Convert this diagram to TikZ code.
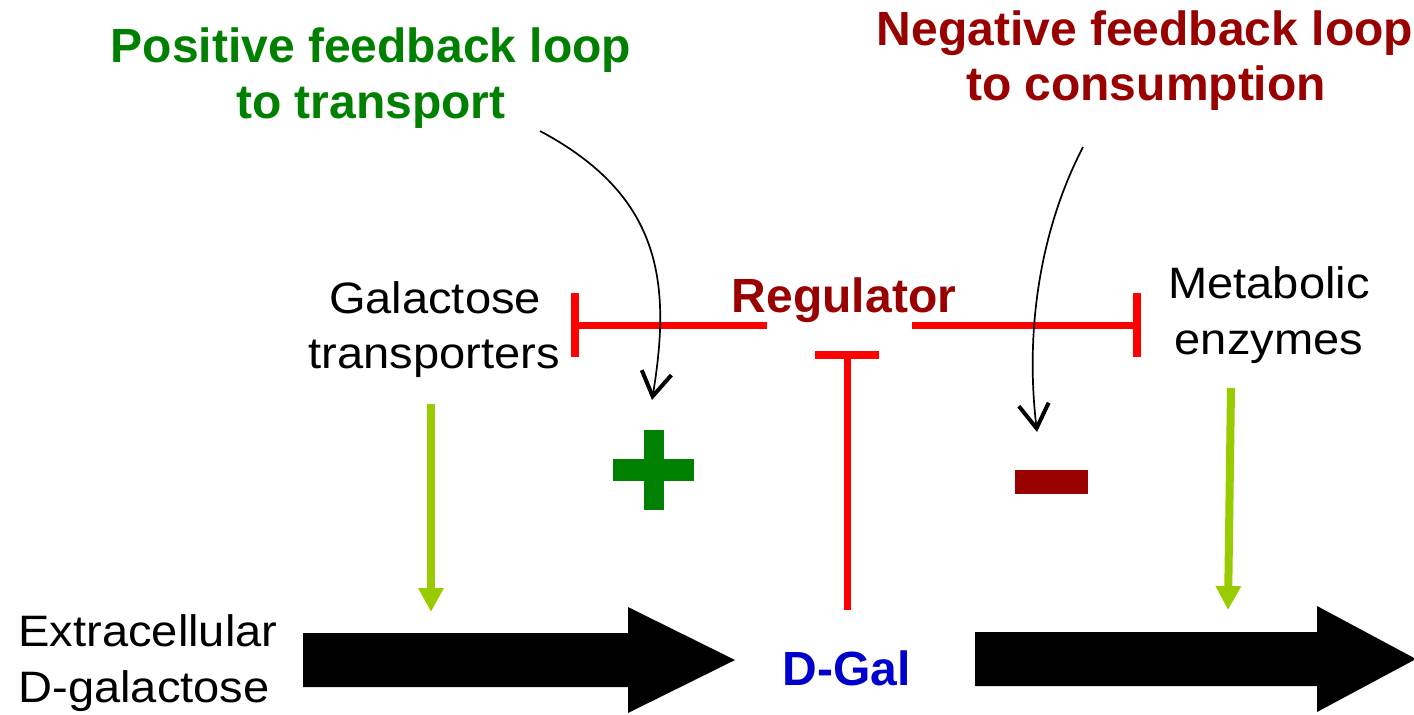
\documentclass[tikz,border=0pt]{standalone}
\usepackage{fontspec}
\setmainfont{Liberation Sans}
\newfontfamily\widesans[FakeStretch=1.07]{Liberation Sans}
\usetikzlibrary{arrows.meta}

\definecolor{posgreen}{RGB}{0,128,0}
\definecolor{negred}{RGB}{153,0,0}
\definecolor{galblue}{RGB}{0,0,204}
\definecolor{inhred}{RGB}{255,0,0}
\definecolor{limegreen}{RGB}{153,204,0}

\tikzset{
  boldlbl/.style={font=\fontsize{24}{27.5}\selectfont\bfseries, inner sep=0pt, anchor=base},
  plainlbl/.style={font=\widesans\fontsize{22}{27.5}\selectfont, inner sep=0pt, anchor=base},
  inhib/.style={draw=inhred, line width=3.5pt, -{Bar[width=32pt,line width=4pt]}},
  activ/.style={draw=limegreen, line width=4pt, -{Triangle[width=12pt,length=12pt]}},
  fbarrow/.style={line width=0.85pt, -{Straight Barb[length=12pt,width=15pt,line width=2pt]}},
  blockarrow/.style={fill=black, draw=none},
}

\begin{document}
\begin{tikzpicture}[x=0.5pt, y=-0.5pt]
\useasboundingbox (0,0) rectangle (1414,714);

% labels
\node[boldlbl, text=posgreen] (pos1) at (371,62) {Positive feedback loop};
\node[boldlbl, text=posgreen] (pos2) at (371,118) {to transport};
\node[boldlbl, text=negred] (neg1) at (1145,45) {Negative feedback loop};
\node[boldlbl, text=negred] (neg2) at (1146,100) {to consumption};
\node[boldlbl, text=negred] (reg) at (844,312) {Regulator};
\node[boldlbl, text=galblue] (dgal) at (847,685) {D-Gal};
\node[plainlbl] (gal1) at (435,313) {Galactose};
\node[plainlbl] (gal2) at (434,368) {transporters};
\node[plainlbl] (met1) at (1269,298) {Metabolic};
\node[plainlbl] (met2) at (1269,354) {enzymes};
\node[plainlbl, anchor=base west] (ext1) at (18,646) {Extracellular};
\node[plainlbl, anchor=base west] (ext2) at (18,702) {D-galactose};

% flux arrows
\fill[blockarrow] (303,633) -- (628,633) -- (628,607) -- (735,660)
  -- (628,713) -- (628,687) -- (303,687) -- cycle;
\fill[blockarrow] (975,632) -- (1317,632) -- (1317,606) -- (1416,659)
  -- (1317,712) -- (1317,686) -- (975,686) -- cycle;

% activation by transporters and enzymes
\coordinate (transTop) at (431,404);
\coordinate (transTip) at (431,612);
\coordinate (enzTop) at (1231,388);
\coordinate (enzTip) at (1228,610);
\draw[activ] (transTop) -- (transTip);
\draw[activ] (enzTop) -- (enzTip);

% regulator inhibitions
\coordinate (regW) at (767,325);
\coordinate (galBar) at (571,325);
\coordinate (regE) at (912,325);
\coordinate (metBar) at (1141,325);
\coordinate (dgalTop) at (847,610);
\coordinate (regBar) at (847,351);
\draw[inhib] (regW) -- (galBar);
\draw[inhib] (regE) -- (metBar);
\draw[inhib] (dgalTop) -- (regBar);

% plus and minus signs
\fill[posgreen] (613,459) rectangle (694,481);
\fill[posgreen] (644,430) rectangle (664,510);
\fill[negred] (1015,470) rectangle (1088,494);

% feedback pointers
\coordinate (posStart) at (540,131);
\coordinate (posTip) at (652,400);
\coordinate (negStart) at (1083,147);
\coordinate (negTip) at (1037,432);
\draw[fbarrow] (posStart) .. controls (660,195) and (672,280) .. (posTip);
\draw[fbarrow] (negStart) .. controls (1040,230) and (1025,330) .. (negTip);
\end{tikzpicture}
\end{document}
